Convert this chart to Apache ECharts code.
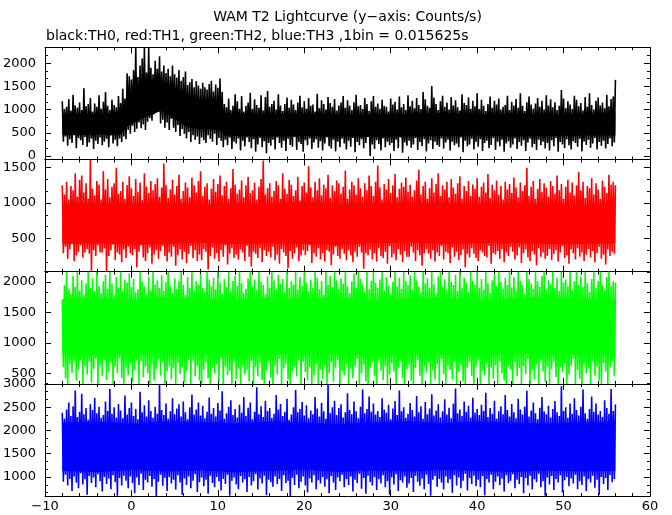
<!DOCTYPE html>
<html><head><meta charset="utf-8">
<script src="https://cdn.jsdelivr.net/npm/echarts@6/dist/echarts.min.js"></script>
<style>html,body{margin:0;padding:0;background:#fff}#c{width:672px;height:515px}</style>
</head><body><div id="c"></div><script>
// time grid: window maxima at T0 + i*STEP, window minima half a step later
const T0 = -8, STEP = 0.25;
const xTicks = { min: -10, max: 60, interval: 10 };

// ---- TH0 (black) ----
const th0Hi = [
 1180,1010,1060,1230,980,1320,1090,1040,1150,990,1460,1070,1120,1250,960,1130,
 1060,1310,1020,1170,1380,1080,990,1210,1100,1050,1290,1140,1450,1240,1780,1720,
 1650,1850,2342,1700,1950,2100,2342,1800,2342,1900,1760,2050,1880,2150,1820,1950,
 1790,1880,1720,1950,1760,1690,1850,1620,1700,1820,1530,1590,1660,1480,1610,1520,
 1450,1580,1480,1430,1550,1620,1390,1540,1470,1670,1380,1120,1050,1240,990,1080,
 1330,1180,1020,1290,960,1080,1150,1360,1010,1220,1100,1040,1310,980,1270,1400,
 1060,1120,1190,1000,1330,1090,970,1120,1260,1040,1210,1110,990,1150,1300,1050,
 1180,1020,1250,1080,1110,960,1340,1030,1200,1120,1000,1270,1140,1060,1230,980,
 1090,1150,1290,1040,1200,1090,990,1160,1320,1070,1100,1010,1250,1120,970,1180,
 1290,1060,1130,1020,1210,1080,1060,960,1240,1110,1170,1000,1280,1050,1120,990,
 1310,1070,1190,1030,1250,1100,1010,1380,1220,1080,1040,1510,1260,1120,990,1180,
 1300,1060,1150,1000,1270,1090,1200,1050,980,1330,1140,1100,1260,1020,1190,1070,
 1350,1010,1210,1080,970,1120,1280,1040,1190,1110,1240,1000,1060,1100,1300,990,
 1170,1090,1230,1040,1350,1080,970,1160,1280,1110,1020,1130,1250,1060,1190,1000,
 1310,1090,1220,1050,1160,990,1080,1420,1240,1030,1180,1110,1010,1300,1210,1070,
 1140,980,1270,1060,1350,1100,1000,1190,1260,1090,1150,1030,1320,1070,1230,1280,
 1640];
const th0Lo = [
 310,420,220,360,280,450,170,390,340,240,410,200,290,380,150,330,
 260,400,230,310,370,190,440,270,350,210,380,300,420,360,560,480,
 650,520,590,720,600,680,560,740,820,760,900,1040,950,700,780,610,
 720,560,800,610,520,670,430,580,480,380,520,300,450,350,420,260,
 400,340,280,450,370,310,480,240,390,330,190,350,230,400,150,310,
 270,380,120,330,210,400,300,170,360,90,250,390,190,320,60,280,
 220,350,140,400,280,180,330,110,370,240,200,410,130,300,260,90,
 340,230,380,150,290,360,180,320,120,270,400,210,160,350,100,310,
 190,370,270,140,330,200,390,80,300,230,360,170,280,410,0,250,
 150,340,260,120,380,190,310,230,280,110,350,170,400,70,290,220,
 330,180,250,390,130,300,210,360,100,270,340,150,310,240,200,380,
 160,290,350,120,310,230,270,190,400,80,330,210,250,370,140,300,
 200,360,110,280,330,170,240,390,130,310,210,350,90,270,320,180,
 250,380,150,300,220,340,110,290,370,190,260,130,350,230,310,160,
 280,120,340,210,390,90,300,250,170,360,230,140,320,280,200,370,
 100,310,240,350,180,270,390,140,300,220,330,160,260,380,210,290];
const th0CoreT  = [-8,-6,-4,-2,-1.2,-0.4,1,2.5,3.5,5,6.5,8,10.2,10.8,13,16,20,24,28,32,36,40,44,48,52,56];
const th0CoreLo = [460,450,470,460,470,640,780,900,980,800,620,580,560,440,430,420,430,420,410,420,430,440,420,430,440,440];
const th0CoreHi = [900,920,900,930,950,1330,1530,1630,1600,1460,1290,1230,1210,930,910,900,920,900,890,910,930,900,920,900,910,930];

// ---- TH1 (red) ----
const th1Hi = [
 1250,1120,1300,1050,1240,1180,1420,1090,1330,1390,1150,1280,1060,1616,1200,1110,
 1310,1260,1050,1450,1190,1340,1080,1230,1280,1500,1130,1170,1300,1060,1250,1380,
 1210,1100,1340,1160,1290,1040,1420,1230,1140,1310,1180,1270,1350,1090,1220,1560,
 1260,1070,1190,1330,1120,1240,1400,1060,1170,1290,1220,1080,1360,1250,1150,1310,
 1450,1100,1230,1280,1050,1200,1340,1160,1270,1390,1110,1240,1300,1060,1210,1480,
 1260,1130,1190,1320,1080,1250,1370,1140,1180,1290,1050,1230,1340,1600,1120,1210,
 1280,1090,1170,1310,1250,1060,1420,1200,1130,1330,1260,1100,1180,1370,1040,1240,
 1290,1150,1520,1220,1080,1300,1180,1350,1110,1260,1210,1400,1070,1250,1170,1320,
 1280,1130,1230,1460,1060,1190,1300,1250,1120,1350,1210,1090,1280,1180,1390,1240,
 1100,1300,1530,1220,1050,1270,1190,1340,1140,1250,1410,1080,1200,1290,1230,1360,
 1160,1260,1090,1180,1320,1470,1120,1240,1300,1060,1210,1350,1150,1270,1420,1100,
 1250,1190,1300,1080,1340,1220,1130,1280,1380,1060,1240,1170,1310,1100,1260,1200,
 1350,1090,1230,1290,1150,1410,1070,1260,1180,1320,1120,1240,1050,1300,1190,1270,
 1140,1360,1220,1080,1290,1170,1250,1500,1100,1230,1310,1060,1200,1340,1160,1280,
 1220,1090,1310,1240,1130,1390,1180,1270,1060,1230,1330,1150,1290,1110,1250,1440,
 1180,1300,1070,1240,1210,1350,1120,1280,1190,1060,1320,1230,1140,1400,1260,1300,
 1250];
const th1Lo = [
 290,380,210,340,420,180,260,310,400,230,300,350,280,40,330,250,
 400,300,300,360,27,250,330,410,190,300,270,160,340,220,380,290,
 260,350,90,310,400,230,180,290,370,140,270,330,210,320,390,250,
 170,300,240,380,110,260,340,200,310,150,280,390,220,330,180,270,
 190,350,310,60,250,370,210,290,170,330,240,400,130,280,360,220,
 270,200,340,300,180,390,240,100,310,280,220,360,160,330,250,310,
 230,380,190,270,140,350,300,250,80,320,210,290,370,180,260,330,
 260,320,400,150,290,240,360,200,290,170,330,310,120,270,380,250,
 210,350,280,190,330,260,160,310,240,380,300,70,290,260,340,200,
 290,170,360,250,220,310,140,390,230,280,190,350,270,160,320,240,
 240,380,300,180,330,260,110,290,350,280,210,330,170,300,250,390,
 200,310,290,150,370,240,310,190,260,340,90,280,230,360,280,220,
 180,330,300,250,230,390,140,290,270,320,210,350,160,300,250,380,
 310,200,260,370,150,290,340,230,180,320,270,120,360,240,300,210,
 250,350,190,280,330,170,300,390,220,260,140,340,290,200,360,240,
 300,180,270,350,230,320,160,290,380,210,270,130,340,250,310,280];
const th1CoreT  = [-8,-4,0,4,8,12,16,20,24,28,32,36,40,44,48,52,56];
const th1CoreLo = [420,430,410,420,440,420,430,420,410,430,440,420,430,430,420,420,430];
const th1CoreHi = [980,1000,990,1010,970,1000,990,1020,980,1000,990,1010,980,1000,990,970,1000];

// ---- TH2 (green) ----
const th2Hi = [
 1700,1950,2169,1880,1810,2100,1920,2169,1860,2030,1790,1980,2169,1900,2060,1850,
 2169,1940,1820,2010,2120,1890,2169,1970,1780,2080,1910,2169,1860,2040,1990,2140,
 1920,2050,1830,1880,2169,2000,1930,1800,2090,1870,2169,1960,2030,1900,2110,1850,
 2000,2169,1940,1820,2060,1890,2020,2169,1950,1790,2080,1910,2169,1870,2010,1960,
 2130,1900,1840,2169,2040,1930,2070,1880,2169,1990,1810,2050,1920,2169,1860,2020,
 2100,1940,2169,1980,1820,1890,2060,2169,1930,2040,1870,2169,2000,1950,1800,2090,
 1910,2169,2030,1880,2120,1970,2050,1830,2169,1900,2010,1960,2169,1870,2080,1940,
 2169,1990,1850,2040,1910,2169,2070,1880,2020,1790,2169,1950,2100,1920,2169,2030,
 1890,2060,1970,2169,1930,1820,2010,2140,1900,2169,2050,1960,1840,2169,1880,2020,
 2169,1990,1910,2040,2169,1860,2080,1940,1800,2000,2169,1930,2070,1890,2169,2010,
 1950,2110,1870,2169,2030,1920,1830,2169,1980,2060,1900,2169,1960,1810,2090,2169,
 1930,2040,1880,2169,2000,1950,2120,1850,2169,1910,2070,1990,1840,2169,2020,1960,
 2169,1900,2050,1870,2169,1980,1820,2030,2140,1930,2169,2000,1890,2060,1950,2169,
 1910,2080,1860,2169,2020,1940,1800,2169,2050,1970,1890,2169,2010,1920,2100,2169,
 1880,2030,1960,2169,1900,2070,1850,2169,1990,2040,1930,2169,1870,2010,2169,1950,
 2090,1920,2169,1980,1840,2050,2169,1900,2020,2169,1960,1870,2080,2169,1940,2010,
 1990];
const th2Lo = [
 600,420,326,650,510,700,380,560,720,326,620,480,690,350,570,740,
 326,640,460,720,390,540,680,326,610,500,750,420,326,590,470,660,
 360,550,710,326,700,440,610,500,326,650,380,570,730,460,690,326,
 530,620,400,580,326,670,490,600,350,540,720,326,710,450,620,380,
 326,560,680,420,326,590,500,650,360,740,326,610,470,540,326,690,
 410,580,326,630,480,560,370,700,326,600,450,670,390,326,550,700,
 430,326,620,480,740,326,580,660,400,326,540,610,450,720,326,690,
 520,380,600,326,470,650,326,560,410,630,326,500,680,360,590,720,
 326,540,470,650,326,580,420,610,740,326,500,640,370,326,600,680,
 450,326,710,550,390,620,326,480,660,530,326,600,700,420,326,570,
 640,380,326,590,720,460,326,610,510,680,326,550,400,650,326,730,
 490,326,620,560,400,700,326,530,640,370,326,590,680,450,326,610,
 720,326,550,470,660,326,590,410,630,326,700,500,380,326,620,560,
 326,680,450,590,326,620,490,730,326,560,400,650,326,710,530,360,
 610,326,570,690,440,326,600,520,660,326,480,620,740,326,550,410,
 326,640,500,580,326,700,460,610,380,326,670,530,326,600,690,450];
const th2CoreT  = [-8,-4,0,4,8,12,16,20,24,28,32,36,40,44,48,52,56];
const th2CoreLo = [820,800,830,810,820,800,810,830,810,800,820,810,800,830,800,810,820];
const th2CoreHi = [1720,1740,1710,1750,1730,1700,1740,1720,1750,1710,1730,1740,1700,1730,1750,1720,1710];

// ---- TH3 (blue) ----
const th3Hi = [
 2380,2250,2450,2600,2310,2520,2860,2290,2400,2790,2350,2480,2230,2560,2440,2700,
 2370,2510,2270,2330,2620,2420,2890,2360,2500,2280,2570,2430,2260,2750,2340,2480,
 2600,2310,2460,2240,2830,2390,2540,2300,2650,2420,2270,2510,2360,2980,2440,2330,
 2580,2250,2410,2690,2350,2470,2560,2300,2620,2390,2240,2500,2770,2340,2450,2600,
 2320,2530,2260,2400,2710,2360,2480,2300,2590,2430,2840,2250,2370,2510,2650,2330,
 2460,2280,2550,2380,2720,2310,2490,2600,2240,2400,2930,2350,2520,2290,2640,2420,
 2480,2270,2360,2760,2450,2570,2310,2400,2680,2230,2340,2500,2870,2390,2460,2610,
 2320,2540,2260,2430,2350,2720,2470,2300,2590,2410,2250,3000,2370,2500,2640,2330,
 2480,2560,2280,2390,2800,2440,2350,2620,2410,2260,2510,2880,2370,2460,2730,2400,
 2580,2340,2420,2290,2690,2450,2380,2550,2240,2470,2630,2330,2860,2410,2500,2270,
 2360,2590,2440,2300,2740,2390,2520,2250,2610,2350,2470,2780,2320,2430,2560,2280,
 2410,2670,2340,2490,2260,2580,2900,2370,2450,2310,2620,2400,2530,2270,2700,2380,
 2460,2330,2550,2420,2810,2290,2480,2360,2640,2250,2410,2520,2350,2760,2440,2300,
 2570,2390,2260,2680,2450,2340,2510,2850,2300,2430,2600,2370,2240,2490,2720,2410,
 2350,2530,2280,2460,2630,2390,2310,2950,2420,2500,2270,2580,2360,2690,2440,2320,
 2510,2880,2370,2250,2460,2730,2400,2580,2340,2420,2290,2650,2480,2360,2890,2420,
 2560];
const th3Lo = [
 900,1050,820,960,700,1010,880,760,1080,840,950,620,1020,870,990,780,
 1060,910,690,1000,850,970,740,1040,890,600,980,820,1030,920,760,1010,
 870,650,990,830,1070,720,940,880,1020,790,960,590,900,1050,810,980,
 700,1000,860,940,730,1040,880,620,970,830,1010,760,920,1060,680,890,
 990,800,940,640,1030,870,780,1000,910,710,960,850,1050,600,920,990,
 840,740,1020,880,950,680,1000,820,910,1060,730,970,860,1030,610,940,
 890,790,1010,850,960,700,1040,870,920,590,980,830,1050,760,900,1010,
 820,670,970,880,1040,740,930,860,1000,790,950,650,1020,880,720,990,
 910,1050,780,960,830,1010,690,940,870,1070,750,980,640,1030,890,820,
 1000,720,950,860,1040,780,910,620,990,840,1060,700,930,880,1010,770,
 860,980,680,1030,900,810,970,740,1050,850,600,940,1020,790,960,880,
 730,1010,870,950,660,1040,820,990,760,920,1070,710,980,850,1030,800,
 940,780,1020,610,960,880,1050,740,900,1010,830,970,690,1040,870,920,
 1060,760,940,850,1000,650,980,820,1030,730,950,890,1070,780,910,600,
 990,840,1020,720,960,880,1040,670,930,1000,800,970,860,1050,740,910,
 830,1010,700,960,880,1030,770,940,620,1000,850,980,720,1040,890,960];
const th3CoreT  = [-8,-4,0,4,8,12,16,20,24,28,32,36,40,44,48,52,56];
const th3CoreLo = [1130,1110,1150,1120,1140,1100,1130,1160,1110,1140,1120,1150,1130,1110,1140,1120,1130];
const th3CoreHi = [2170,2190,2150,2200,2180,2160,2190,2170,2140,2180,2200,2160,2190,2170,2150,2180,2190];

// y-axis ranges and tick labels
const th0Range = [-75, 2342],  th0Labels = [0, 500, 1000, 1500, 2000];
const th1Range = [27, 1616],   th1Labels = [500, 1000, 1500];
const th2Range = [326, 2169],  th2Labels = [500, 1000, 1500, 2000];
const th3Range = [590, 3000],  th3Labels = [1000, 1500, 2000, 2500, 3000];

const titleText = 'WAM T2 Lightcurve (y\u2212axis: Counts/s)';
const subText = 'black:TH0, red:TH1, green:TH2, blue:TH3 ,1bin = 0.015625s';

const panels = [
  {hi: th0Hi, lo: th0Lo, cT: th0CoreT, cLo: th0CoreLo, cHi: th0CoreHi, range: th0Range, labels: th0Labels, color: '#000000'},
  {hi: th1Hi, lo: th1Lo, cT: th1CoreT, cLo: th1CoreLo, cHi: th1CoreHi, range: th1Range, labels: th1Labels, color: '#ff0000'},
  {hi: th2Hi, lo: th2Lo, cT: th2CoreT, cLo: th2CoreLo, cHi: th2CoreHi, range: th2Range, labels: th2Labels, color: '#00ff00'},
  {hi: th3Hi, lo: th3Lo, cT: th3CoreT, cLo: th3CoreLo, cHi: th3CoreHi, range: th3Range, labels: th3Labels, color: '#0000ff'}
];

const FONT = 'DejaVu Sans';
const GL = 45, GR = 22, GTOP = 47.3, GH = 112.2;
const grids = [], xAxes = [], yAxes = [], series = [];

function minorVals(range, step) {
  const out = [];
  const sub = step / 3;
  for (let k = Math.ceil(range[0] / sub); k * sub <= range[1]; k++) {
    if (k % 3 !== 0) out.push(k * sub);
  }
  return out;
}

panels.forEach((p, g) => {
  grids.push({left: GL, right: GR, top: GTOP + g * GH, height: GH, outerBoundsMode: 'none', containLabel: false});
  ['bottom', 'top'].forEach(pos => {
    xAxes.push({
      gridIndex: g, type: 'value', position: pos,
      min: xTicks.min, max: xTicks.max, interval: xTicks.interval,
      axisLine: {show: true, onZero: false, lineStyle: {color: '#000', width: 1}},
      axisTick: {show: true, inside: true, length: 6, lineStyle: {color: '#000', width: 1}},
      minorTick: {show: true, splitNumber: 5, length: 3, lineStyle: {color: '#000', width: 1}},
      splitLine: {show: false},
      axisLabel: {show: g === 3 && pos === 'bottom', color: '#000', fontFamily: FONT, fontSize: 13, margin: 4,
        formatter: v => String(v).replace('-', '\u2212')}
    });
  });
  const minors = minorVals(p.range, 500);
  ['left', 'right'].forEach(pos => {
    yAxes.push({
      gridIndex: g, type: 'value', position: pos, min: p.range[0], max: p.range[1],
      axisLine: {show: true, onZero: false, lineStyle: {color: '#000', width: 1}},
      axisTick: {show: true, inside: true, length: 6, customValues: p.labels, lineStyle: {color: '#000', width: 1}},
      splitLine: {show: false},
      axisLabel: {show: pos === 'left', customValues: p.labels, color: '#000', fontFamily: FONT, fontSize: 13, margin: 9,
        formatter: v => String(v)}
    });
    yAxes.push({
      gridIndex: g, type: 'value', position: pos, min: p.range[0], max: p.range[1],
      axisLine: {show: false, onZero: false},
      axisTick: {show: true, inside: true, length: 3, customValues: minors, lineStyle: {color: '#000', width: 1}},
      splitLine: {show: false},
      axisLabel: {show: false}
    });
  });
  // dense core of the light curve
  series.push({
    type: 'custom', xAxisIndex: 2 * g, yAxisIndex: 4 * g, silent: true, animation: false,
    data: [[p.cT[0], p.cLo[0]]],
    renderItem: (params, api) => {
      const pts = [];
      for (let i = 0; i < p.cT.length; i++) pts.push(api.coord([p.cT[i], p.cHi[i]]));
      for (let i = p.cT.length - 1; i >= 0; i--) pts.push(api.coord([p.cT[i], p.cLo[i]]));
      return {type: 'polygon', shape: {points: pts}, style: {fill: p.color}};
    }
  });
  // spikes: alternate window maxima and minima
  const zig = [];
  for (let i = 0; i < p.hi.length; i++) {
    zig.push([T0 + i * STEP, p.hi[i]]);
    if (i < p.lo.length) zig.push([T0 + i * STEP + STEP / 2, p.lo[i]]);
  }
  series.push({
    type: 'line', xAxisIndex: 2 * g, yAxisIndex: 4 * g, data: zig,
    showSymbol: false, symbol: 'none', animation: false, silent: true, clip: true,
    sampling: null, lineStyle: {color: p.color, width: 1.6, join: 'miter', miterLimit: 2}
  });
});

const chart = echarts.init(document.getElementById('c'), null, {renderer: 'canvas'});
chart.setOption({
  backgroundColor: '#fff',
  animation: false,
  grid: grids, xAxis: xAxes, yAxis: yAxes, series: series,
  graphic: [
    {type: 'text', x: 347.5, y: 17, style: {text: titleText, fill: '#000', font: '14px "DejaVu Sans"', textAlign: 'center', textVerticalAlign: 'middle'}},
    {type: 'text', x: 46, y: 36, style: {text: subText, fill: '#000', font: '14px "DejaVu Sans"', textAlign: 'left', textVerticalAlign: 'middle'}}
  ]
});
</script></body></html>
